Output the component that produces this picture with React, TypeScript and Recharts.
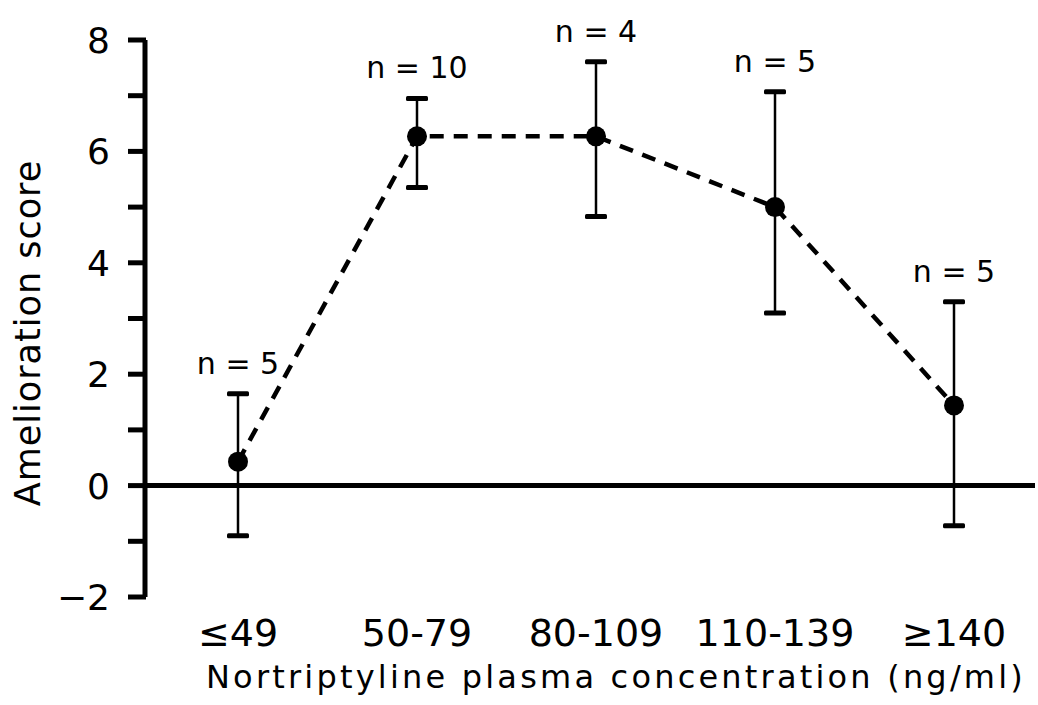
import { ComposedChart, Line, XAxis, YAxis, ErrorBar, ReferenceLine, LabelList } from "recharts";

// concentration bands (ng/ml)
const categories = ["≤49", "50-79", "80-109", "110-139", "≥140"];
// mean amelioration score and the ends of each error bar
const means = [0.43, 6.27, 6.27, 5.0, 1.44];
const upperEnds = [1.65, 6.95, 7.61, 7.07, 3.3];
const lowerEnds = [-0.9, 5.35, 4.83, 3.1, -0.72];
const groupSizes = [5, 10, 4, 5, 5];
const yTicks = [-2, -1, 0, 1, 2, 3, 4, 5, 6, 7, 8];

const data = categories.map((cat, i) => ({
  cat,
  mean: means[i],
  upper: upperEnds[i],
  lower: lowerEnds[i],
  err: [means[i] - lowerEnds[i], upperEnds[i] - means[i]],
  n: groupSizes[i],
}));

const FONT = "'DejaVu Sans', sans-serif";
const TICK_LEN = 17;
const TICK_GAP = 18;

const Cap = (props: any) => {
  const { cx, cy, index } = props;
  if (cx == null || cy == null) return <g key={index} />;
  return <rect key={index} x={cx - 11} y={cy - 2.5} width={22} height={5} rx={1.5} fill="#000" />;
};

const fmtY = (v: number) => (v % 2 === 0 ? (v < 0 ? "\u2212" + Math.abs(v) : String(v)) : "");

// y tick: thick tick mark plus label on even values
const YTick = (props: any) => {
  const { x, y, payload } = props;
  const x0 = x + TICK_GAP;
  return (
    <g>
      <line x1={x0} y1={y} x2={x0 + TICK_LEN + 1} y2={y} stroke="#000" strokeWidth={5} />
      <text x={x} y={y} dy="0.36em" textAnchor="end" fontSize={36} fontFamily={FONT} fill="#000">
        {fmtY(payload.value)}
      </text>
    </g>
  );
};

export default function App() {
  return (
    <div style={{ position: "absolute", left: 0, top: 0, background: "#fff" }}>
      <ComposedChart
        width={1038}
        height={705}
        data={data}
        margin={{ top: 40, right: 3, bottom: 8, left: 0 }}
        style={{ fontFamily: FONT }}
      >
        <XAxis
          dataKey="cat"
          type="category"
          padding={{ left: 93, right: 81 }}
          axisLine={false}
          tickLine={false}
          interval={0}
          height={100}
          tickMargin={16}
          tick={{ fill: "#000", fontSize: 38, fontFamily: FONT }}
          label={{
            content: () => (
              <text
                x={616}
                y={688}
                textAnchor="middle"
                fontSize={32}
                letterSpacing={3.2}
                fontFamily={FONT}
                fill="#000"
              >
                Nortriptyline plasma concentration (ng/ml)
              </text>
            ),
          }}
        />
        <YAxis
          type="number"
          domain={[-2, 8]}
          ticks={yTicks}
          interval={0}
          width={145}
          tickSize={TICK_LEN}
          tickMargin={TICK_GAP}
          tickLine={false}
          axisLine={{ stroke: "#000", strokeWidth: 5 }}
          tick={<YTick />}
          label={{
            content: () => (
              <text
                x={28}
                y={333}
                transform="rotate(-90, 28, 333)"
                textAnchor="middle"
                dominantBaseline="central"
                fontSize={35}
                letterSpacing={1}
                fontFamily={FONT}
                fill="#000"
              >
                Amelioration score
              </text>
            ),
          }}
        />
        <ReferenceLine y={0} stroke="#000" strokeWidth={5} />
        <Line
          dataKey="lower"
          stroke="none"
          dot={Cap}
          activeDot={false}
          legendType="none"
          isAnimationActive={false}
        />
        <Line
          dataKey="upper"
          stroke="none"
          dot={Cap}
          activeDot={false}
          legendType="none"
          isAnimationActive={false}
        >
          <LabelList
            dataKey="n"
            position="top"
            offset={20}
            formatter={(v: any) => `n = ${v}`}
            style={{ fill: "#000", fontSize: 30, fontFamily: FONT }}
          />
        </Line>
        <Line
          dataKey="mean"
          stroke="#000"
          strokeWidth={4.5}
          strokeDasharray="14 10"
          dot={{ r: 10, fill: "#000", stroke: "#000", strokeWidth: 0 }}
          activeDot={false}
          isAnimationActive={false}
        >
          <ErrorBar dataKey="err" width={0} stroke="#000" strokeWidth={2.5} isAnimationActive={false} />
        </Line>
      </ComposedChart>
    </div>
  );
}
